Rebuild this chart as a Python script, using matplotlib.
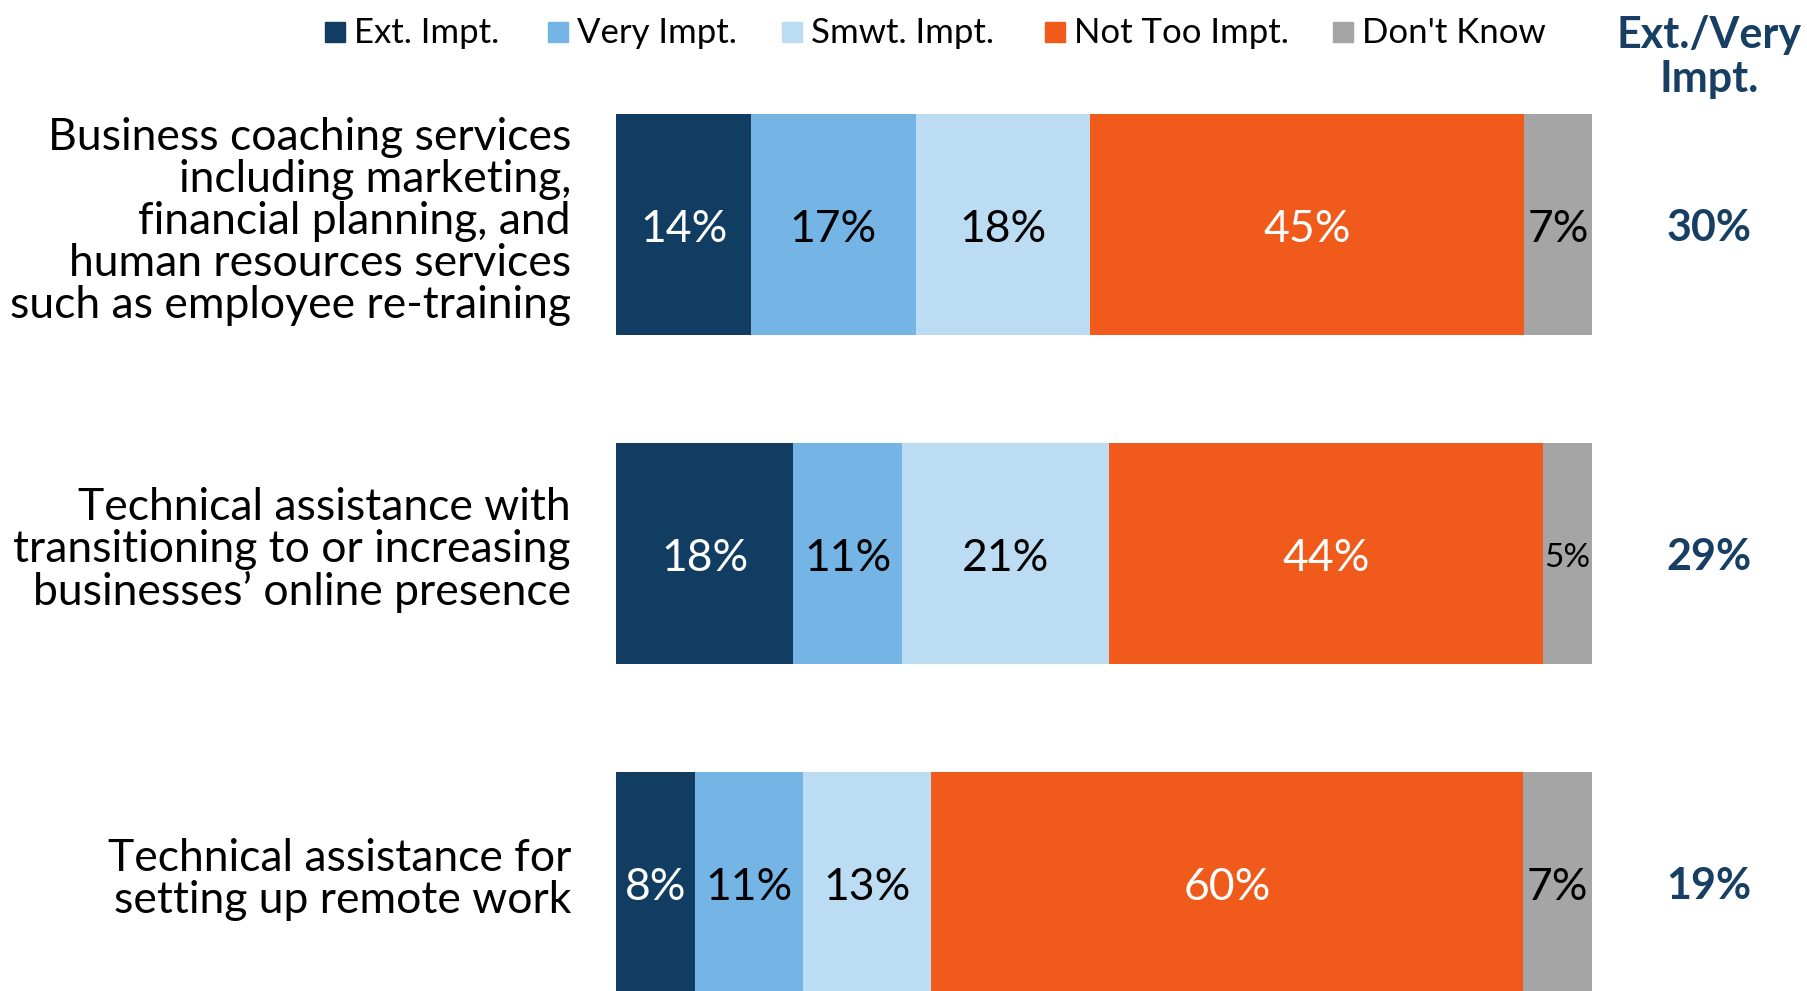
import numpy as np
import matplotlib
matplotlib.use('Agg')
import matplotlib.pyplot as plt
from matplotlib.patches import Rectangle

plt.rcParams['font.family'] = ['Lato', 'DejaVu Sans']

# --- data ---
items = [
    "Business coaching services\nincluding marketing,\nfinancial planning, and\nhuman resources services\nsuch as employee re-training",
    "Technical assistance with\ntransitioning to or increasing\nbusinesses\u2019 online presence",
    "Technical assistance for\nsetting up remote work",
]
series = ["Ext. Impt.", "Very Impt.", "Smwt. Impt.", "Not Too Impt.", "Don't Know"]
ext_impt = [14, 18, 8]
very_impt = [17, 11, 11]
smwt_impt = [18, 21, 13]
not_too_impt = [45, 44, 60]
dont_know = [7, 5, 7]
ext_very_total = [30, 29, 19]

colors = ['#123D62', '#75B5E6', '#BBDCF3', '#F05A1A', '#A5A5A5']
label_colors = ['white', 'black', 'black', 'white', 'black']
navy = '#173E63'

W, H = 1808, 991
fig = plt.figure(figsize=(W / 100, H / 100), dpi=100)
ax = fig.add_axes([616 / W, 0, (1592 - 616) / W, 1])

values = np.array([ext_impt, very_impt, smwt_impt, not_too_impt, dont_know], dtype=float)
shares = values / values.sum(axis=0) * 100
y = np.arange(len(items))
left = np.zeros(len(items))

for i, name in enumerate(series):
    ax.barh(y, shares[i], left=left, height=0.672, color=colors[i], edgecolor='none')
    for j in range(len(items)):
        # narrow segments get smaller text
        size = 32 if shares[i][j] >= 6 else 24
        ax.text(left[j] + shares[i][j] / 2, y[j] + 0.014, f"{int(values[i][j])}%",
                ha='center', va='center', color=label_colors[i], fontsize=size)
    left += shares[i]

ax.set_xlim(0, 100)
ax.set_ylim((991 - 224.5) / 329, -224.5 / 329)
ax.axis('off')

# category labels
for j, txt in enumerate(items):
    ax.text(-45 / 976 * 100, y[j] - 0.01, txt, ha='right', va='center', fontsize=32,
            linespacing=1.03, color='black')

# right column
for j, v in enumerate(ext_very_total):
    ax.text((1709 - 616) / 976 * 100, y[j] + 0.01, f"{v}%", ha='center', va='center',
            fontsize=31, fontweight='bold', color=navy)
fig.text(1709 / W, 1 - 57 / H, "Ext./Very\nImpt.", ha='center', va='center',
         fontsize=31, fontweight='bold', color=navy, linespacing=1.12)

# legend
leg_x = [325, 548, 782, 1045, 1333]
for i, name in enumerate(series):
    fig.patches.append(Rectangle((leg_x[i] / W, 1 - 42 / H), 20 / W, 20 / H,
                                 transform=fig.transFigure, color=colors[i]))
    fig.text((leg_x[i] + 29) / W, 1 - 33 / H, name, ha='left', va='center', fontsize=25)

fig.savefig('out.png', dpi=100)
